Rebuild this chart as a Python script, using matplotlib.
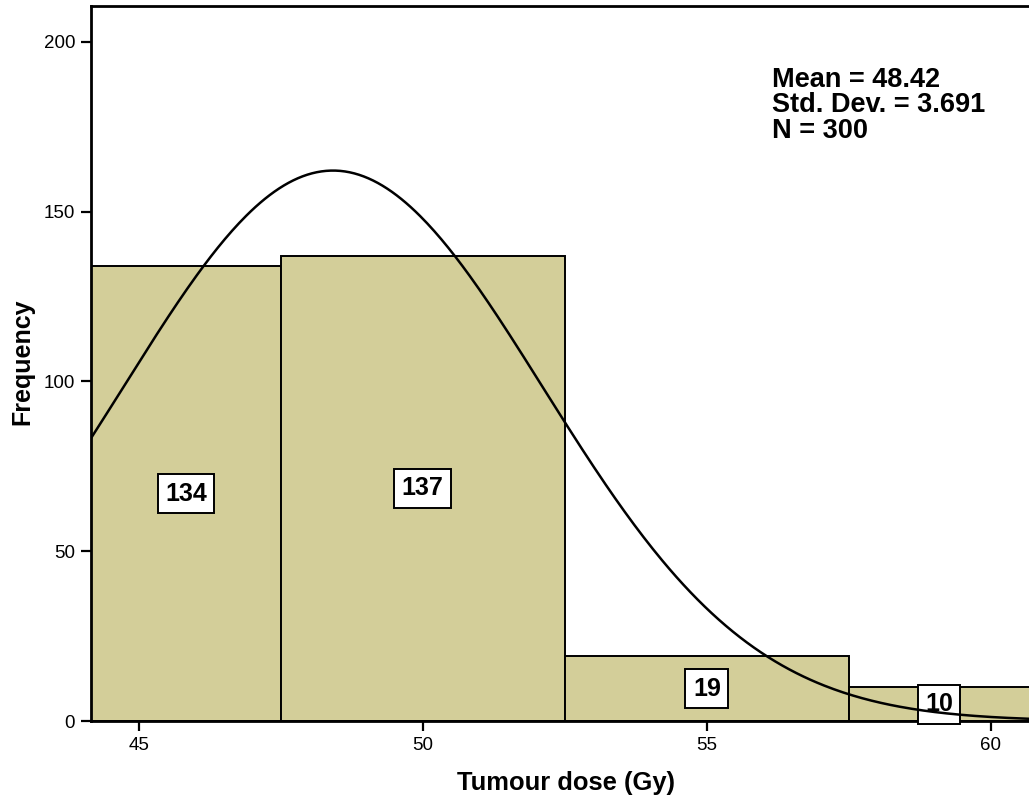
import numpy as np
import matplotlib.pyplot as plt

plt.rcParams['font.family'] = ['Liberation Sans', 'DejaVu Sans']

# histogram of tumour dose, 5 Gy bins
bin_edges = [42.5, 47.5, 52.5, 57.5, 62.5]
counts = [134, 137, 19, 10]
mean, sd, n = 48.42, 3.691, 300

fig = plt.figure(figsize=(10.29, 8.01), dpi=100)
ax = fig.add_axes([91/1029, 80/801, 1 - 91/1029, 715/801])

lefts = np.array(bin_edges[:-1])
widths = np.diff(bin_edges)
ax.bar(lefts, counts, width=widths, align='edge', color='#d3ce99',
       edgecolor='black', linewidth=1.4, zorder=2)

xmin, xmax = 44.16, 60.67
ax.set_xlim(xmin, xmax)
ax.set_ylim(0, 210.6)

# normal curve scaled to counts
binw = widths[0]
x = np.linspace(xmin, xmax, 400)
y = n * binw / (sd * np.sqrt(2 * np.pi)) * np.exp(-0.5 * ((x - mean) / sd) ** 2)
ax.plot(x, y, color='black', linewidth=1.8, zorder=4)

# count labels at the middle of the visible part of each bar
for l, w, c in zip(lefts, widths, counts):
    cx = (max(l, xmin) + min(l + w, xmax)) / 2
    ax.text(cx, c / 2, str(c), ha='center', va='center', fontsize=18,
            fontweight='bold', zorder=3,
            bbox=dict(boxstyle='square,pad=0.3', fc='white', ec='black', lw=1.4))

ax.text(0.726, 0.915, f'Mean = {mean}\nStd. Dev. = {sd}\nN = {n}',
        transform=ax.transAxes, ha='left', va='top', fontsize=19.5,
        fontweight='bold', linespacing=0.97)

ax.set_xticks([45, 50, 55, 60])
ax.set_yticks([0, 50, 100, 150, 200])
ax.tick_params(direction='out', length=7.5, width=1.6, labelsize=13.5, pad=4)
for s in ['left', 'bottom', 'top']:
    ax.spines[s].set_linewidth(2)
ax.spines['right'].set_visible(False)

fig.text(566/1029, 1 - 783/801, 'Tumour dose (Gy)', ha='center', va='center',
         fontsize=18.4, fontweight='bold')
fig.text(22/1029, 1 - 362/801, 'Frequency', ha='center', va='center',
         rotation=90, fontsize=18, fontweight='bold')

fig.savefig('out.png', dpi=100)
